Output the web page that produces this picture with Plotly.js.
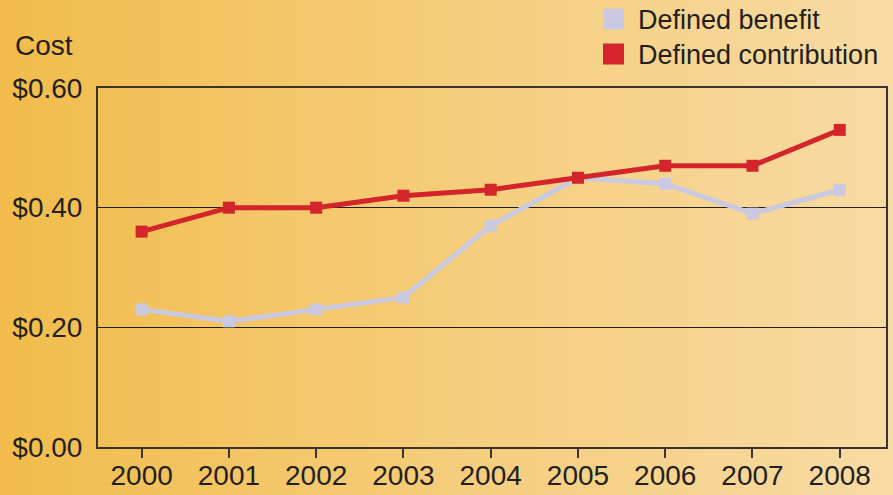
<!DOCTYPE html>
<html>
<head>
<meta charset="utf-8">
<script src="https://cdn.plot.ly/plotly-3.0.1.min.js"></script>
<style>
html,body{margin:0;padding:0;}
body{width:893px;height:495px;background:linear-gradient(to right,#F1BC4B 0%,#F5CD7A 50%,#F8DBA4 100%);overflow:hidden;}
#chart{width:893px;height:495px;}
</style>
</head>
<body>
<div id="chart"></div>
<script>
const years = [2000, 2001, 2002, 2003, 2004, 2005, 2006, 2007, 2008];
const definedBenefit = [0.23, 0.21, 0.23, 0.25, 0.37, 0.45, 0.44, 0.39, 0.43];
const definedContribution = [0.36, 0.40, 0.40, 0.42, 0.43, 0.45, 0.47, 0.47, 0.53];
const seriesNames = ['Defined benefit', 'Defined contribution'];
const yTicks = [0, 0.2, 0.4, 0.6];
const yTickLabels = ['$0.00', '$0.20', '$0.40', '$0.60'];

const blue = '#C9C9E1';
const red = '#D3252B';
const colors = [blue, red];
const font = 'Liberation Sans, Arial, sans-serif';
const txt = '#231F20';

const traces = [
  {x: years, y: definedBenefit, name: seriesNames[0], mode: 'lines+markers', line: {color: blue, width: 5}, marker: {symbol: 'square', size: 12, color: blue}, showlegend: false, hoverinfo: 'skip'},
  {x: years, y: definedContribution, name: seriesNames[1], mode: 'lines+markers', line: {color: red, width: 5}, marker: {symbol: 'square', size: 12, color: red}, showlegend: false, hoverinfo: 'skip'}
];

// pixel -> paper helpers (plot area: x 98..886, y 88..447)
const px = v => (v - 98) / 788;
const py = v => (447 - v) / 359;

const legendRows = [19, 54];
const shapes = legendRows.map((cy, i) => ({
  type: 'rect', xref: 'paper', yref: 'paper',
  x0: px(603), x1: px(624), y0: py(cy - 10.5), y1: py(cy + 10.5),
  fillcolor: colors[i], line: {width: 0}
}));
const annotations = legendRows.map((cy, i) => ({
  text: seriesNames[i], xref: 'paper', yref: 'paper', x: px(636), y: py(cy + 1),
  xanchor: 'left', yanchor: 'middle', showarrow: false,
  font: {family: font, size: 27, color: txt}
}));
annotations.push({text: 'Cost', xref: 'paper', yref: 'paper', x: px(13), y: py(45), xanchor: 'left', yanchor: 'middle', showarrow: false, font: {family: font, size: 28, color: txt}});

const layout = {
  width: 893, height: 495,
  margin: {l: 98, r: 7, t: 88, b: 48, autoexpand: false},
  paper_bgcolor: 'rgba(0,0,0,0)',
  plot_bgcolor: 'rgba(0,0,0,0)',
  font: {family: font, size: 27, color: txt},
  showlegend: false,
  xaxis: {
    range: [1999.5, 2008.53], tickvals: years, ticktext: years.map(String),
    showgrid: false, zeroline: false, showline: true, linecolor: '#3a3330', linewidth: 2, mirror: true,
    ticks: 'outside', ticklen: 9, tickwidth: 2, tickcolor: '#3a3330', ticklabelstandoff: -7,
    tickfont: {family: font, size: 28, color: txt}, fixedrange: true, automargin: false
  },
  yaxis: {
    range: [0, 0.6], tickvals: yTicks, ticktext: yTickLabels,
    showgrid: true, gridcolor: txt, gridwidth: 1.5, zeroline: false,
    showline: true, linecolor: '#3a3330', linewidth: 2, mirror: true,
    ticks: '', ticklabelstandoff: 8,
    tickfont: {family: font, size: 28, color: txt}, fixedrange: true, automargin: false
  },
  shapes: shapes,
  annotations: annotations
};

Plotly.newPlot('chart', traces, layout, {displayModeBar: false, staticPlot: true});
</script>
</body>
</html>
